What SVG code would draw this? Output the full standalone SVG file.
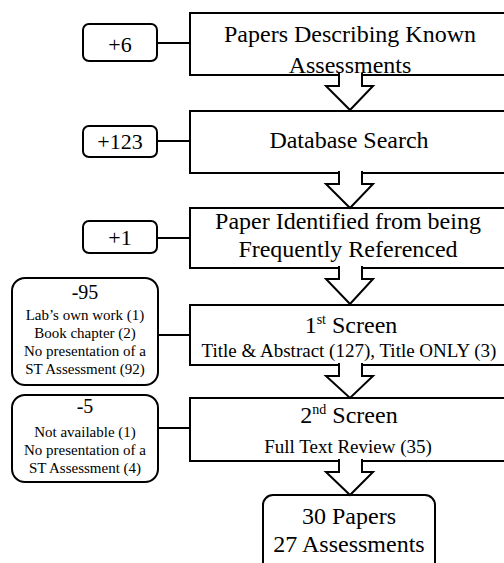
<svg xmlns="http://www.w3.org/2000/svg" width="504" height="563" viewBox="0 0 504 563">
<style>
.box{fill:#fff;stroke:#000;stroke-width:2}
.ln{stroke:#000;stroke-width:2;fill:none}
.arr{fill:#fff;stroke:#000;stroke-width:2;stroke-linejoin:miter}
text{font-family:"Liberation Serif","Times New Roman",serif;fill:#000;text-anchor:middle}
.big{font-size:24px}
.mid{font-size:19px}
.num{font-size:22px}
.neg{font-size:20px}
.sm{font-size:15px}
</style>
<rect width="504" height="563" fill="#fff"/>
<g id="n1">
<rect class="box" x="190" y="13" width="330" height="62"/>
<text class="big" x="350" y="42">Papers Describing Known</text>
<text class="big" x="350" y="73">Assessments</text>
</g>
<g id="n2">
<rect class="box" x="190" y="111" width="330" height="62"/>
<text class="big" x="349" y="148">Database Search</text>
</g>
<g id="n3">
<rect class="box" x="190" y="208" width="330" height="60"/>
<text class="big" x="348" y="229">Paper Identified from being</text>
<text class="big" x="348" y="257">Frequently Referenced</text>
</g>
<g id="n4">
<rect class="box" x="190" y="305" width="330" height="60"/>
<text class="big" x="351" y="333">1<tspan font-size="14" dy="-9">st</tspan><tspan dy="9"> Screen</tspan></text>
<text class="mid" x="349" y="357">Title &amp; Abstract (127), Title ONLY (3)</text>
</g>
<g id="n5">
<rect class="box" x="190" y="398" width="330" height="63"/>
<text class="big" x="349" y="423">2<tspan font-size="14" dy="-9">nd</tspan><tspan dy="9"> Screen</tspan></text>
<text class="mid" x="348" y="453">Full Text Review (35)</text>
</g>
<g id="n6">
<rect class="box" x="263" y="495" width="172" height="85" rx="10"/>
<text class="big" x="349" y="524">30 Papers</text>
<text class="big" x="349" y="552">27 Assessments</text>
</g>
<g id="a1">
<rect class="box" x="83" y="24" width="74" height="37" rx="6"/>
<text class="num" x="120" y="52">+6</text>
</g>
<g id="a2">
<rect class="box" x="83" y="126" width="74" height="31" rx="6"/>
<text class="num" x="120" y="149">+123</text>
</g>
<g id="a3">
<rect class="box" x="83" y="221" width="74" height="32" rx="6"/>
<text class="num" x="120" y="245">+1</text>
</g>
<g id="r1">
<rect class="box" x="12" y="278" width="146" height="107" rx="13"/>
<text class="neg" x="85" y="299">-95</text>
<text class="sm" x="85" y="320">Lab’s own work (1)</text>
<text class="sm" x="85" y="338">Book chapter (2)</text>
<text class="sm" x="85" y="356">No presentation of a</text>
<text class="sm" x="85" y="374">ST Assessment (92)</text>
</g>
<g id="r2">
<rect class="box" x="12" y="395" width="146" height="87" rx="13"/>
<text class="neg" x="85" y="413">-5</text>
<text class="sm" x="85" y="437">Not available (1)</text>
<text class="sm" x="85" y="455">No presentation of a</text>
<text class="sm" x="85" y="473">ST Assessment (4)</text>
</g>
<g id="connectors">
<line class="ln" x1="157" y1="43" x2="190" y2="43"/>
<line class="ln" x1="157" y1="141" x2="190" y2="141"/>
<line class="ln" x1="157" y1="238" x2="190" y2="238"/>
<line class="ln" x1="158" y1="335" x2="190" y2="335"/>
<line class="ln" x1="158" y1="428" x2="190" y2="428"/>
<path class="arr" d="M339,73 V86 H326 L350,110 L373,86 H362 V73"/>
<path class="arr" d="M339,171 V184 H326 L350,208 L373,184 H362 V171"/>
<path class="arr" d="M339,266 V279 H326 L350,304 L373,279 H362 V266"/>
<path class="arr" d="M339,363 V376 H326 L350,398 L373,376 H362 V363"/>
<path class="arr" d="M339,459 V472 H326 L350,495 L373,472 H362 V459"/>
</g>
</svg>
